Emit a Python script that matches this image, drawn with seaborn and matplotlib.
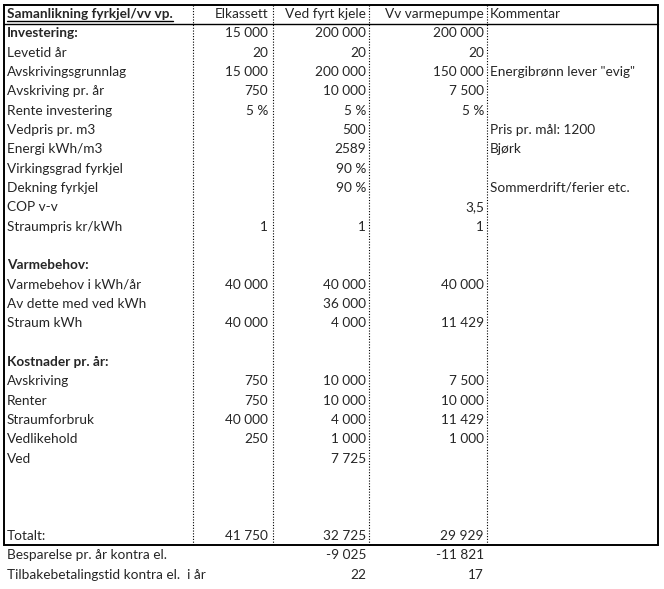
import matplotlib
matplotlib.use("Agg")
import matplotlib.pyplot as plt
import seaborn as sns

# ---- data ----
title = "Samanlikning fyrkjel/vv vp."
columns = ["Elkassett", "Ved fyrt kjele", "Vv varmepumpe", "Kommentar"]
labels = ["Investering:", "Levetid år", "Avskrivingsgrunnlag", "Avskriving pr. år",
          "Rente investering", "Vedpris pr. m3", "Energi kWh/m3", "Virkingsgrad fyrkjel",
          "Dekning fyrkjel", "COP v-v", "Straumpris kr/kWh", "",
          "Varmebehov:", "Varmebehov i kWh/år", "Av dette med ved kWh", "Straum kWh", "",
          "Kostnader pr. år:", "Avskriving", "Renter", "Straumforbruk", "Vedlikehold", "Ved",
          "", "", "", "Totalt:", "Besparelse pr. år kontra el.",
          "Tilbakebetalingstid kontra el.  i år"]
bold_labels = ["Investering:", "Varmebehov:", "Kostnader pr. år:"]
elkassett = ["15 000", "20", "15 000", "750", "5 %", "", "", "", "", "", "1", "",
             "", "40 000", "", "40 000", "",
             "", "750", "750", "40 000", "250", "", "", "", "", "41 750", "", ""]
ved_fyrt = ["200 000", "20", "200 000", "10 000", "5 %", "500", "2589", "90 %", "90 %", "", "1", "",
            "", "40 000", "36 000", "4 000", "",
            "", "10 000", "10 000", "4 000", "1 000", "7 725", "", "", "", "32 725", "-9 025", "22"]
varmepumpe = ["200 000", "20", "150 000", "7 500", "5 %", "", "", "", "", "3,5", "1", "",
              "", "40 000", "", "11 429", "",
              "", "7 500", "10 000", "11 429", "1 000", "", "", "", "", "29 929", "-11 821", "17"]
kommentar = ["", "", "Energibrønn lever \"evig\"", "", "", "Pris pr. mål: 1200", "Bjørk", "",
             "Sommerdrift/ferier etc.", "", "", "", "", "", "", "", "", "", "", "", "", "", "",
             "", "", "", "", "", ""]

# ---- layout ----
sns.set_theme(style="white")
plt.rcParams['font.family'] = ['Lato', 'DejaVu Sans']
W, H = 664, 589
fig = plt.figure(figsize=(W / 100, H / 100), dpi=100)
ax = fig.add_axes([0, 0, 1, 1])
ax.set_xlim(0, W)
ax.set_ylim(H, 0)
ax.axis("off")

fs = 9.8
y0, rh = 14.0, 19.33
left, right, top, bottom = 3.5, 658, 4.5, 545
vlines = [193, 273, 369, 487]
xr = [268, 366, 484]
xk = 490

# box
ax.plot([left, right, right, left, left], [top, top, bottom, bottom, top], color="black", lw=1.4,
        solid_joinstyle="miter")
ax.plot([left, right], [23.5, 23.5], color="black", lw=1.0)
for xv in vlines:
    ax.plot([xv, xv], [top, bottom], color="black", lw=0.8, linestyle=(0, (1, 1.5)))

# header
t = ax.text(7, y0, title, fontsize=fs, fontweight="bold", va="center", ha="left")
fig.canvas.draw()
bb = t.get_window_extent(renderer=fig.canvas.get_renderer())
ax.plot([7, 7 + bb.width], [20.5, 20.5], color="black", lw=1.0)
for x, c in zip(xr, columns[:3]):
    ax.text(x, y0, c, fontsize=fs, va="center", ha="right")
ax.text(xk, y0, columns[3], fontsize=fs, va="center", ha="left")

for i, lab in enumerate(labels):
    y = y0 + rh * (i + 1)
    ax.text(7, y, lab, fontsize=fs, va="center", ha="left",
            fontweight="bold" if lab in bold_labels else "normal")
    for x, col in zip(xr, [elkassett, ved_fyrt, varmepumpe]):
        if col[i]:
            ax.text(x, y, col[i], fontsize=fs, va="center", ha="right")
    if kommentar[i]:
        ax.text(xk, y, kommentar[i], fontsize=fs, va="center", ha="left")

fig.savefig("out.png", dpi=100, facecolor="white")
